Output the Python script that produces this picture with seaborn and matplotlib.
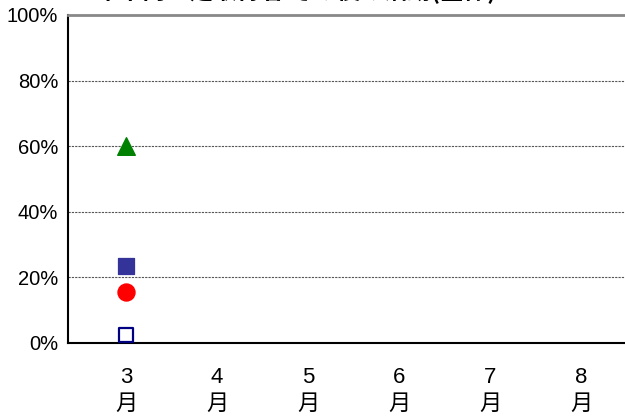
import numpy as np
import pandas as pd
import matplotlib
matplotlib.use("Agg")
import matplotlib.pyplot as plt
import seaborn as sns

# data (only March has values)
months = ["3\n月", "4\n月", "5\n月", "6\n月", "7\n月", "8\n月"]
triangle_vals = [60, np.nan, np.nan, np.nan, np.nan, np.nan]
square_vals = [23.5, np.nan, np.nan, np.nan, np.nan, np.nan]
circle_vals = [15.5, np.nan, np.nan, np.nan, np.nan, np.nan]
open_square_vals = [2.3, np.nan, np.nan, np.nan, np.nan, np.nan]
y_ticks = [0, 20, 40, 60, 80, 100]
title = "13年卒内々定取得者 その後の活動(全体)"

sns.set_style("white", {"text.color": "black", "xtick.color": "black", "ytick.color": "black"})
plt.rcParams["font.family"] = ["Liberation Sans", "Noto Sans CJK JP", "DejaVu Sans"]

df = pd.DataFrame({
    "pos": np.arange(len(months)),
    "tri": triangle_vals,
    "sq": square_vals,
    "circ": circle_vals,
    "osq": open_square_vals,
})

fig = plt.figure(figsize=(6.25, 4.17), dpi=100)
ax = fig.add_axes([68 / 625, 1 - 343 / 417, 1.2, 328 / 417])

sns.scatterplot(data=df, x="pos", y="tri", marker="^", s=160, color="#008000",
                edgecolor="#008000", ax=ax, zorder=3)
sns.scatterplot(data=df, x="pos", y="sq", marker="s", s=130, color="#333399",
                edgecolor="#333399", ax=ax, zorder=3)
sns.scatterplot(data=df, x="pos", y="circ", marker="o", s=150, color="#ff0000",
                edgecolor="#ff0000", ax=ax, zorder=3)
sns.scatterplot(data=df, x="pos", y="osq", marker="s", s=110, facecolor="white",
                edgecolor="#000080", linewidth=1.6, ax=ax, zorder=3)

ax.set_ylim(0, 100)
ax.set_xlim(-58 / 91, -58 / 91 + 1.2 * 625 / 91)
ax.set_yticks(y_ticks)
ax.set_yticklabels([f"{v}%" for v in y_ticks], fontsize=14.5, color="black")
for v in y_ticks[1:-1]:
    ax.axhline(v, color="#555555", linestyle=(0, (2, 1)), linewidth=0.8, zorder=1)

ax.set_xticks(df["pos"])
ax.set_xticklabels(months, fontsize=16, linespacing=1.4, color="black")
ax.set_xticks(df["pos"][:-1] + 0.5, minor=True)
ax.tick_params(axis="x", which="major", length=0, pad=17)
ax.tick_params(axis="x", which="minor", direction="in", length=6, color="#999999", width=1)
ax.tick_params(axis="y", length=0, pad=7)
ax.set_xlabel("")
ax.set_ylabel("")

for side in ["left", "bottom"]:
    ax.spines[side].set_color("black")
    ax.spines[side].set_linewidth(1.5)
ax.spines["top"].set_color("#888888")
ax.spines["top"].set_linewidth(2)
ax.spines["right"].set_visible(False)

fig.text(0.45, 1 - 4 / 417, title, fontsize=17, fontweight="bold", ha="center", va="bottom",
         color="black", family=["Noto Sans CJK JP", "DejaVu Sans"])

fig.savefig("out.png", dpi=100)
